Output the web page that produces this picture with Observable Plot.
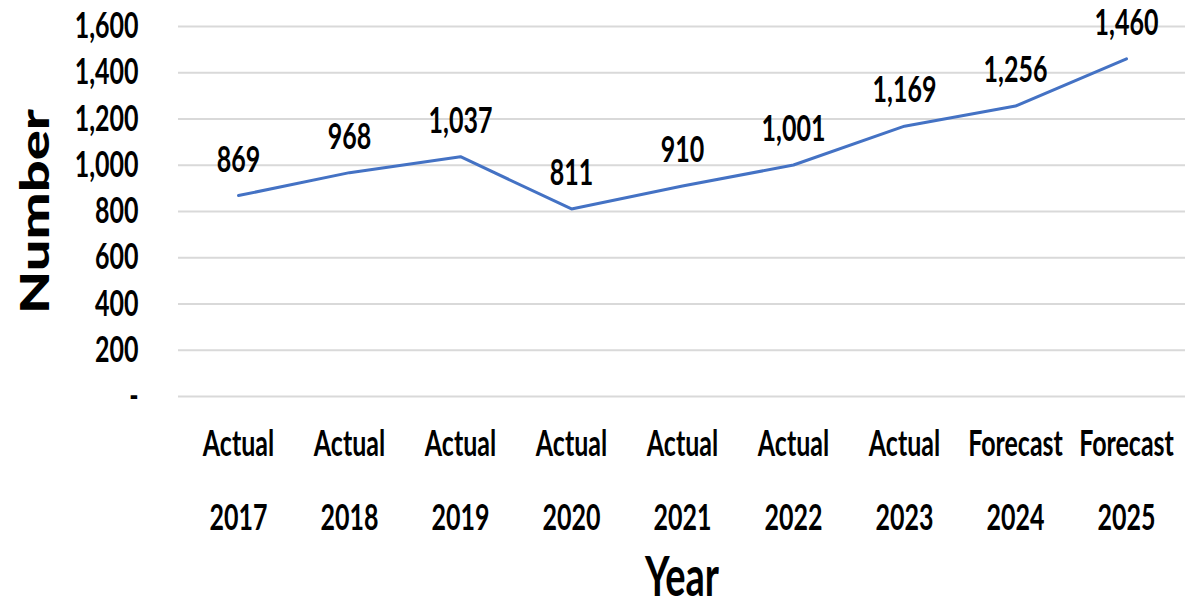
<!DOCTYPE html>
<html><head><meta charset="utf-8">
<script src="https://cdn.jsdelivr.net/npm/d3@7"></script>
<script src="https://cdn.jsdelivr.net/npm/@observablehq/plot@0.6"></script>
<style>body{margin:0;background:#fff} svg{display:block}</style>
</head><body><div id="chart"></div>
<script>
const kinds = ["Actual","Actual","Actual","Actual","Actual","Actual","Actual","Forecast","Forecast"];
const years = [2017,2018,2019,2020,2021,2022,2023,2024,2025];
const values = [869,968,1037,811,910,1001,1169,1256,1460];
const yTicks = [0,200,400,600,800,1000,1200,1400,1600];
const xTitle = "Year";
const yTitle = "Number";

const data = years.map((y,i)=>({key: `${kinds[i]}\n${y}`, value: values[i]}));
const fmt = d3.format(",");
const font = "Lato, 'Open Sans', sans-serif";
const K = 1.45; // vertical stretch of text

const plot = Plot.plot({
  width: 1201, height: 607,
  marginLeft: 178, marginRight: 16, marginTop: 26, marginBottom: 211,
  style: {fontFamily: font, fontWeight: "bold", color: "#000", background: "#fff"},
  x: {type: "point", domain: data.map(d=>d.key), padding: 0.5},
  y: {domain: [0,1600]},
  marks: [
    Plot.gridY(yTicks, {stroke: "#d9d9d9", strokeOpacity: 1, strokeWidth: 2}),
    Plot.axisY(yTicks, {tickSize: 0, tickPadding: 40, fontSize: 25, fill: "#000",
      tickFormat: d => d === 0 ? "-" : fmt(d), label: null}),
    Plot.axisX({tickSize: 0, tickPadding: 7, fontSize: 25, lineHeight: 2.04, fill: "#000", label: null}),
    Plot.line(data, {x: "key", y: "value", stroke: "#4472C4", strokeWidth: 3}),
    Plot.text(data, {x: "key", y: "value", text: d => fmt(d.value), lineAnchor: "bottom", dy: -24, fontSize: 25, fill: "#000"}),
    Plot.text([xTitle], {frameAnchor: "bottom", dy: 199, lineAnchor: "bottom", fontSize: 38, fill: "#000"}),
    Plot.text([yTitle], {frameAnchor: "left", dx: -142, rotate: -90, textAnchor: "middle", lineAnchor: "middle", fontSize: 40, fontWeight: 900, fill: "#000"})
  ]
});
plot.querySelectorAll("text").forEach(t => {
  const tr = t.getAttribute("transform") || "";
  t.setAttribute("transform", tr + (tr.includes("rotate") ? ` scale(1.4,1)` : ` scale(1,${K})`));
});
document.getElementById("chart").appendChild(plot);
</script>
</body></html>
